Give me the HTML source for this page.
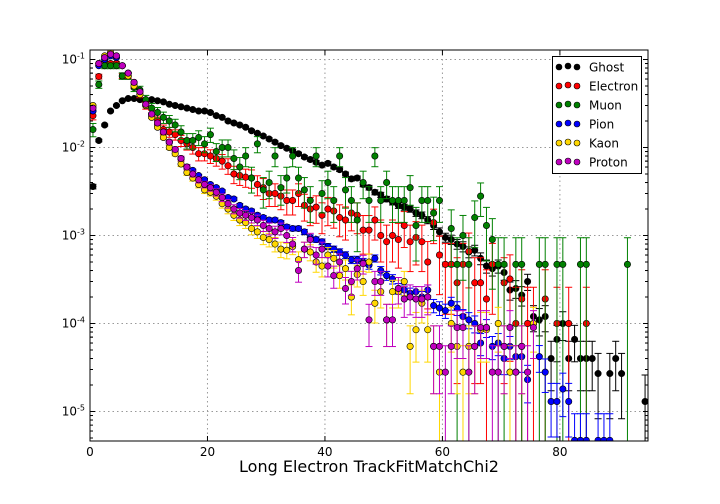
<!DOCTYPE html>
<html><head><meta charset="utf-8"><style>
html,body{margin:0;padding:0;background:#fff;width:720px;height:504px;overflow:hidden;}
svg{display:block;font-family:"DejaVu Sans","Liberation Sans",sans-serif;}
</style></head><body>
<svg id="chart" width="720" height="504" viewBox="0 0 720 504" xmlns="http://www.w3.org/2000/svg">
<rect x="0" y="0" width="720" height="504" fill="#fff"/>
<g id="grid"></g>
<g id="marks"></g>
<g id="axes"></g>
<text x="369" y="472" font-size="16" text-anchor="middle" fill="#000">Long Electron TrackFitMatchChi2</text>
<g id="legend"></g>
</svg>
<script>
const seriesNames = ["Ghost","Electron","Muon","Pion","Kaon","Proton"];
const seriesColors = ["#000000","#ff0000","#008000","#0000ff","#ffd700","#bf00bf"];
const seriesNorm = [77000,4000,2100,210000,36000,36000];
const xTicks = [0,20,40,60,80];
const yTickExps = [-1,-2,-3,-4,-5];
const _ = null;
const ghost = [3.6e-3,1.2e-2,1.8e-2,2.6e-2,3.0e-2,3.4e-2,3.6e-2,3.6e-2,3.5e-2,3.3e-2,3.5e-2,3.4e-2,3.3e-2,3.1e-2,3.0e-2,2.9e-2,2.8e-2,2.7e-2,2.6e-2,2.6e-2,2.5e-2,2.3e-2,2.2e-2,2.0e-2,1.9e-2,1.8e-2,1.7e-2,1.55e-2,1.45e-2,1.35e-2,1.25e-2,1.15e-2,1.05e-2,9.8e-3,9.2e-3,8.5e-3,7.8e-3,7.3e-3,6.8e-3,6.3e-3,6.6e-3,6.0e-3,5.6e-3,5.0e-3,4.4e-3,4.5e-3,3.8e-3,3.5e-3,3.1e-3,2.9e-3,2.6e-3,2.4e-3,2.2e-3,2.1e-3,2.0e-3,1.8e-3,1.7e-3,1.5e-3,1.3e-3,1.1e-3,9.5e-4,9.0e-4,8e-4,7.5e-4,6.5e-4,6.8e-4,5.5e-4,4.5e-4,4.2e-4,4.5e-4,3.8e-4,2.4e-4,2.5e-4,2.1e-4,3.0e-4,1.2e-4,1.1e-4,1.2e-4,4e-5,6.6e-5,1.0e-4,4e-5,6.6e-5,4e-5,4e-5,4e-5,2.7e-5,_,2.7e-5,4e-5,2.7e-5,_,_,_,1.3e-5];
const electron = [2.3e-2,6.4e-2,9e-2,9e-2,9e-2,6.5e-2,6.5e-2,5e-2,4e-2,3e-2,2.4e-2,2.0e-2,1.6e-2,1.5e-2,1.4e-2,1.2e-2,1.1e-2,1.0e-2,8.5e-3,8.5e-3,8e-3,7.5e-3,7e-3,6.2e-3,5e-3,4.8e-3,4.6e-3,4.5e-3,3.8e-3,3.5e-3,3e-3,3e-3,2.8e-3,2.5e-3,2.5e-3,3e-3,2.2e-3,2e-3,2.1e-3,1.7e-3,2.0e-3,1.9e-3,1.6e-3,1.5e-3,1.8e-3,1.7e-3,1.15e-3,1.15e-3,1.5e-3,1.0e-3,8.5e-4,1.0e-3,9e-4,1.3e-3,8.5e-4,9.5e-4,8.5e-4,5e-4,1.4e-3,6e-4,4.7e-4,4.7e-4,2.9e-4,4.7e-4,6.6e-4,2.9e-4,2.9e-4,1.9e-4,4.7e-4,_,2.9e-4,3.2e-4,1e-4,1.9e-4,1e-4,1e-4,_,1.9e-4,_,1e-4,_,1e-4,_,_,1e-4];
const muon = [1.6e-2,5.2e-2,8.5e-2,8.5e-2,8.5e-2,6.5e-2,6.5e-2,4.8e-2,4.5e-2,3.5e-2,2.8e-2,2.5e-2,2.2e-2,2.0e-2,1.8e-2,1.5e-2,1.2e-2,1.2e-2,1.3e-2,1.1e-2,1.4e-2,9e-3,1.0e-2,1.0e-2,7.5e-3,6e-3,8e-3,4.5e-3,1.1e-2,3.3e-3,4e-3,8e-3,3.5e-3,4.5e-3,8e-3,4.5e-3,3.3e-3,2.5e-3,8e-3,3e-3,4e-3,2.5e-3,8e-3,3.3e-3,2.5e-3,1.5e-3,4e-3,2.5e-3,8e-3,2.5e-3,4e-3,2.5e-3,2.5e-3,2.5e-3,3.5e-3,1.3e-3,2.5e-3,2.5e-3,1.8e-3,2.5e-3,_,1.2e-3,4.7e-4,1.0e-3,4.7e-4,1.6e-3,2.8e-3,1.3e-3,9e-4,4.7e-4,4.7e-4,_,4.7e-4,4.7e-4,_,_,4.7e-4,4.7e-4,_,4.7e-4,4.7e-4,_,_,4.7e-4,4.7e-4,_,_,_,_,_,_,4.7e-4];
const pion = [2.6e-2,8.5e-2,1.0e-1,1.1e-1,1.05e-1,8.5e-2,7e-2,5.5e-2,4.2e-2,3e-2,2.3e-2,1.8e-2,1.5e-2,1.15e-2,9.5e-3,7.5e-3,6e-3,5.5e-3,4.8e-3,4.3e-3,3.8e-3,3.5e-3,3.2e-3,2.7e-3,2.6e-3,2.2e-3,2.0e-3,1.9e-3,1.7e-3,1.6e-3,1.5e-3,1.5e-3,1.4e-3,1.25e-3,1.2e-3,1.2e-3,1.1e-3,9.5e-4,9e-4,8.5e-4,7.5e-4,7e-4,6.5e-4,6e-4,5.3e-4,5.3e-4,5e-4,4.6e-4,5.5e-4,4e-4,3.5e-4,3.2e-4,2.5e-4,2.4e-4,2.2e-4,2.3e-4,2.0e-4,2.4e-4,1.6e-4,1.5e-4,1.4e-4,1.7e-4,1.5e-4,1.2e-4,1.1e-4,1.0e-4,6e-5,9e-5,5.5e-5,6e-5,4e-5,5.5e-5,4.2e-5,4.2e-5,2.3e-5,_,4.2e-5,2.8e-5,1.3e-5,1.3e-5,1.8e-5,1.3e-5,4.7e-6,4.7e-6,4.7e-6,_,4.7e-6,4.7e-6,4.7e-6];
const kaon = [3e-2,9e-2,1.1e-1,1.2e-1,1.1e-1,8.5e-2,6.5e-2,5e-2,4e-2,3e-2,2.2e-2,1.7e-2,1.3e-2,1.0e-2,8.5e-3,6.5e-3,5.2e-3,4.5e-3,3.8e-3,3.3e-3,3.1e-3,2.8e-3,2.3e-3,2.0e-3,1.7e-3,1.5e-3,1.4e-3,1.2e-3,1.1e-3,9.5e-4,9e-4,8e-4,7e-4,6.8e-4,7.5e-4,5.3e-4,7e-4,6.5e-4,5e-4,4.5e-4,6e-4,5.5e-4,3.5e-4,4.2e-4,2e-4,3.6e-4,3e-4,5e-4,1.7e-4,2.3e-4,1.1e-4,2.3e-4,2.3e-4,3e-4,5.5e-5,8.5e-5,1.7e-4,8.5e-5,5.5e-5,2.8e-5,_,1.0e-4,5.5e-5,2.8e-5,5.5e-5,5.5e-5,8.5e-5,8.5e-5,_,1.0e-4,5.5e-5,2.8e-5,2.8e-5,5.5e-5,_,1.0e-4];
const proton = [2.8e-2,9e-2,1.05e-1,1.15e-1,1.1e-1,8.5e-2,7e-2,5.5e-2,4.3e-2,3.1e-2,2.4e-2,1.9e-2,1.5e-2,1.15e-2,9.5e-3,7.5e-3,6e-3,5e-3,4.3e-3,3.8e-3,3.5e-3,3.1e-3,2.7e-3,2.3e-3,2.0e-3,1.8e-3,1.7e-3,1.6e-3,1.5e-3,1.3e-3,1.2e-3,1.1e-3,1.2e-3,1.0e-3,8e-4,4e-4,7e-4,9e-4,6e-4,7e-4,4.5e-4,3.5e-4,5e-4,2.5e-4,3e-4,4.2e-4,4.8e-4,1.1e-4,3e-4,3e-4,1.1e-4,1.1e-4,2.5e-4,1.9e-4,2e-4,1.9e-4,1.9e-4,2e-4,5.5e-5,5.5e-5,2.8e-5,5.5e-5,9e-5,9e-5,2.8e-5,5.5e-5,9e-5,9e-5,2.8e-5,2.8e-5,5.5e-5,9e-5,2.8e-5,5.5e-5,2.8e-5,9e-5];
const seriesValues = [ghost,electron,muon,pion,kaon,proton];

const NS="http://www.w3.org/2000/svg";
const L=90,R=648,T=50,B=441;
const xMax=95;
function xs(v){return L+(v/xMax)*(R-L);}
function ys(v){return 59.5-(Math.log10(v)+1)*88;}
function mk(tag,attrs,parent){const e=document.createElementNS(NS,tag);for(const k in attrs)e.setAttribute(k,attrs[k]);parent.appendChild(e);return e;}
const grid=document.getElementById('grid'),marks=document.getElementById('marks'),axes=document.getElementById('axes'),legend=document.getElementById('legend');

xTicks.forEach(t=>{
  const x=xs(t);
  if(t>0){const g=mk('line',{x1:x,x2:x,y1:T,y2:B,stroke:'#999','stroke-dasharray':'1.5,3','stroke-width':1},grid);
  
  }
  const tl=mk('text',{x:x,y:B+15,'font-size':12,'text-anchor':'middle',fill:'#000'},axes);
  tl.textContent=t;
  
  
  mk('line',{x1:x,x2:x,y1:B,y2:B-5,stroke:'#000'},axes);
  mk('line',{x1:x,x2:x,y1:T,y2:T+5,stroke:'#000'},axes);
});
yTickExps.forEach(e=>{
  const y=ys(Math.pow(10,e));
  const g=mk('line',{x1:L,x2:R,y1:y,y2:y,stroke:'#999','stroke-dasharray':'1.5,3','stroke-width':1},grid);
  
  
  const tl=mk('text',{x:L-5,y:y+4,'font-size':12,'text-anchor':'end',fill:'#000'},axes);
  tl.innerHTML='10<tspan dy="-5" font-size="8">'+e+'</tspan>';
  
  
  for(let m=1;m<=9;m++){
    const yy=ys(m*Math.pow(10,e));
    if(yy<T||yy>B)continue;
    const len=m===1?5:3;
    mk('line',{x1:L,x2:L+len,y1:yy,y2:yy,stroke:'#000'},axes);
    mk('line',{x1:R,x2:R-len,y1:yy,y2:yy,stroke:'#000'},axes);
  }
  for(let m=2;m<=9;m++){const yy=ys(m*Math.pow(10,e-1));if(yy<T||yy>B)continue;
    mk('line',{x1:L,x2:L+3,y1:yy,y2:yy,stroke:'#000'},axes);mk('line',{x1:R,x2:R-3,y1:yy,y2:yy,stroke:'#000'},axes);}
});
const frame=mk('rect',{x:L,y:T,width:R-L,height:B-T,fill:'none',stroke:'#000','stroke-width':1},axes);



const clip=mk('clipPath',{id:'pc'},document.getElementById('chart'));
mk('rect',{x:L,y:T,width:R-L,height:B-T},clip);
marks.setAttribute('clip-path','url(#pc)');

seriesValues.forEach((vals,si)=>{
  const col=seriesColors[si];
  const g=mk('g',{},marks);
  
  
  vals.forEach((v,i)=>{
    if(v===null||v===undefined)return;
    const x=xs(i+0.5),y=ys(v);
    const err=Math.sqrt(v/seriesNorm[si]);
    const lo=v-err>0?Math.min(B,ys(v-err)):B, hi=Math.max(T,ys(v+err));
    mk('line',{x1:x,x2:x,y1:lo,y2:hi,stroke:col,'stroke-width':1},g);
    mk('line',{x1:x-3.5,x2:x+3.5,y1:hi,y2:hi,stroke:col,'stroke-width':1},g);
    if(v-err>0&&ys(v-err)<B)mk('line',{x1:x-3.5,x2:x+3.5,y1:lo,y2:lo,stroke:col,'stroke-width':1},g);
    const c=mk('circle',{cx:x,cy:y,r:3.2,fill:col,stroke:'#000','stroke-width':0.6},g);
    
    
  });
});

const lb=mk('rect',{x:552.5,y:56.5,width:89,height:117,fill:'#fff',stroke:'#000','stroke-width':1},legend);


seriesNames.forEach((n,i)=>{
  const y=67+i*19;
  const ent=mk('g',{},legend);
  
  
  [559,568,577].forEach(x=>mk('circle',{cx:x,cy:y+(x===568?-1:0),r:3,fill:seriesColors[i],stroke:'#000','stroke-width':0.6},ent));
  const t=mk('text',{x:589,y:y+4.5,'font-size':12,fill:'#000'},ent);
  t.textContent=n;
});
</script>
</body></html>
